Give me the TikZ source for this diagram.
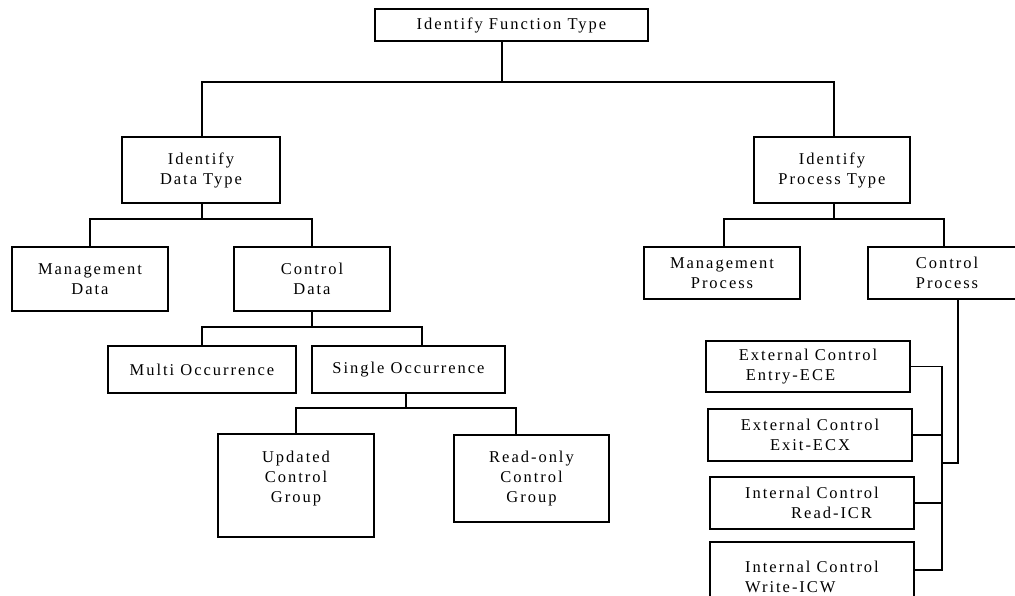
\documentclass[tikz,border=0pt]{standalone}
\usepackage{fontspec}
\setmainfont{Liberation Serif}[LetterSpace=12]
\usetikzlibrary{calc}
\begin{document}
\begin{tikzpicture}[x=1pt,y=-1pt,line width=1.4pt,
  txt/.style={inner sep=0pt, align=center, font=\fontsize{16.5}{20}\selectfont},
  box/.style={txt, draw, rectangle},
  conn/.style={draw, line width=1.4pt}]
\clip (0,0) rectangle (1015,595);
% boxes
\node[box, minimum width=273, minimum height=32] (fun) at (511.5,25) {Identify Function Type};
\node[box, minimum width=158, minimum height=66] (idt) at (201,170) {Identify\\Data Type};
\node[box, minimum width=156, minimum height=66] (ipt) at (832,170) {Identify\\Process Type};
\node[box, minimum width=156, minimum height=64] (md) at (90,279) {Management\\Data};
\node[box, minimum width=156, minimum height=64] (cd) at (312,279) {Control\\Data};
\node[box, minimum width=156, minimum height=52] (mp) at (722,273) {Management\\Process};
\node[box, minimum width=158, minimum height=52] (cp) at (947,273) {Control\\Process};
\node[box, minimum width=188, minimum height=47] (mo) at (202,369.5) {Multi Occurrence};
\node[box, minimum width=193, minimum height=47] (so) at (408.5,369.5) {Single Occurrence};
\node[box, minimum width=156, minimum height=103] (ucg) at (296,485.5) {};
\node[txt] (ucgt) at (296,479) {Updated\\Control\\Group};
\node[box, minimum width=155, minimum height=87] (rcg) at (531.5,478.5) {Read-only\\Control\\Group};
\node[box, align=left, minimum width=204, minimum height=51] (ece) at (808,366.5) {External Control\\\hspace*{7pt}Entry-ECE};
\node[box, minimum width=204, minimum height=52] (ecx) at (810,435) {External Control\\Exit-ECX};
\node[box, align=left, minimum width=204, minimum height=52] (icr) at (812,503) {Internal Control\\\hspace*{46pt}Read-ICR};
\node[box, align=left, minimum width=204, minimum height=70] (icw) at (812,577) {Internal Control\\Write-ICW};
% junctions
\coordinate (j1) at (502,82);
\coordinate (j2) at (202,219);
\coordinate (j3) at (834,219);
\coordinate (j4) at (312,327);
\coordinate (j5) at (406,408);
\coordinate (j6) at (942,463);
% connectors
\draw[conn] (fun.south -| j1) -- (j1);
\draw[conn] (idt.north -| j2) |- (j1) -| (ipt.north -| j3);
\draw[conn] (idt.south -| j2) -- (j2);
\draw[conn] (md.north) |- (j2) -| (cd.north);
\draw[conn] (ipt.south -| j3) -- (j3);
\draw[conn] ($(mp.north)+(2,0)$) |- (j3) -| ($(cp.north)+(-3,0)$);
\draw[conn] (cd.south) -- (j4);
\draw[conn] (mo.north) |- (j4) -| ($(so.north)+(13.5,0)$);
\draw[conn] (so.south -| j5) -- (j5);
\draw[conn] (ucg.north) |- (j5) -| ($(rcg.north)+(-15.5,0)$);
\draw[conn] ($(cp.south)+(11,0)$) |- (j6);
\draw[conn] (ece.east) -| (j6);
\draw[conn] (j6) |- ($(icw.east)+(0,-7)$);
\draw[conn] (ecx.east) -- (ecx.east -| j6);
\draw[conn] (icr.east) -- (icr.east -| j6);
\end{tikzpicture}
\end{document}
